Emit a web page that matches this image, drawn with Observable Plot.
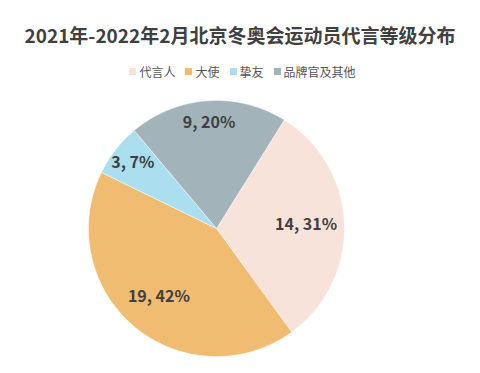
<!DOCTYPE html>
<html>
<head>
<meta charset="utf-8">
<script src="https://cdn.jsdelivr.net/npm/d3@7"></script>
<script src="https://cdn.jsdelivr.net/npm/@observablehq/plot@0.6"></script>
<style>
  body { margin: 0; background: #fff; width: 480px; height: 373px; overflow: hidden; font-family: "Noto Sans CJK SC", "Noto Sans", sans-serif; }
  #title { text-align: center; font-size: 19px; font-weight: bold; color: #404040; line-height: 24px; padding-top: 23px; height: 24px; }
  #legend { display: flex; justify-content: center; align-items: center; margin-top: 12px; height: 24px; font-size: 12px; color: #555; padding-left: 5px; }
  .item { display: flex; align-items: center; margin: 0 5px; }
  .sw { width: 7px; height: 7px; margin-right: 3px; }
</style>
</head>
<body>
<div id="title"></div>
<div id="legend"></div>
<div id="chart"></div>
<script>
const title = "2021年-2022年2月北京冬奥会运动员代言等级分布";
const categories = ["代言人", "大使", "挚友", "品牌官及其他"];
const values = [14, 19, 3, 9];
const colors = ["#f8e3db", "#efbc71", "#abdff0", "#a2b4ba"];

document.getElementById("title").textContent = title;
const legend = document.getElementById("legend");
categories.forEach((c, i) => {
  const item = document.createElement("div");
  item.className = "item";
  const sw = document.createElement("div");
  sw.className = "sw";
  sw.style.background = colors[i];
  const t = document.createElement("span");
  t.textContent = c;
  item.appendChild(sw); item.appendChild(t);
  legend.appendChild(item);
});

const total = d3.sum(values);
const pieData = categories.map((c, i) => ({cat: c, value: values[i]}));
const arcs = d3.pie().value(d => d.value).sort(null).startAngle(32 * Math.PI / 180).endAngle(32 * Math.PI / 180 + 2 * Math.PI)(pieData);

const polyPts = [];
const labels = [];
arcs.forEach(a => {
  const cat = a.data.cat;
  polyPts.push({cat, x: 0, y: 0});
  const n = Math.max(2, Math.ceil((a.endAngle - a.startAngle) / (Math.PI / 360)));
  for (let k = 0; k <= n; k++) {
    const t = a.startAngle + (a.endAngle - a.startAngle) * k / n;
    polyPts.push({cat, x: Math.sin(t), y: Math.cos(t)});
  }
  polyPts.push({cat, x: 0, y: 0});
  const mid = (a.startAngle + a.endAngle) / 2;
  const share = a.data.value / total;
  const lr = share < 0.25 ? 0.83 : 0.7;
  labels.push({cat, x: lr * Math.sin(mid), y: lr * Math.cos(mid), text: `${a.data.value}, ${Math.round(share * 100)}%`});
});

const cx = 216, cy = 145, r = 128;
const chart = Plot.plot({
  width: 480,
  height: 290,
  margin: 0,
  x: {domain: [-1, 1], range: [cx - r, cx + r], axis: null},
  y: {domain: [-1, 1], range: [cy + r, cy - r], axis: null},
  color: {domain: categories, range: colors},
  style: {fontFamily: '"Noto Sans CJK SC", "Noto Sans", sans-serif', background: "transparent", overflow: "visible"},
  marks: [
    Plot.line(polyPts, {x: "x", y: "y", z: "cat", fill: "cat", stroke: "#ffffff", strokeWidth: 0.6, strokeOpacity: 0.8, curve: "linear"}),
    Plot.text(labels, {x: "x", y: "y", text: "text", fill: "#404040", fontSize: 16, fontWeight: "bold"})
  ]
});
document.getElementById("chart").appendChild(chart);
</script>
</body>
</html>
